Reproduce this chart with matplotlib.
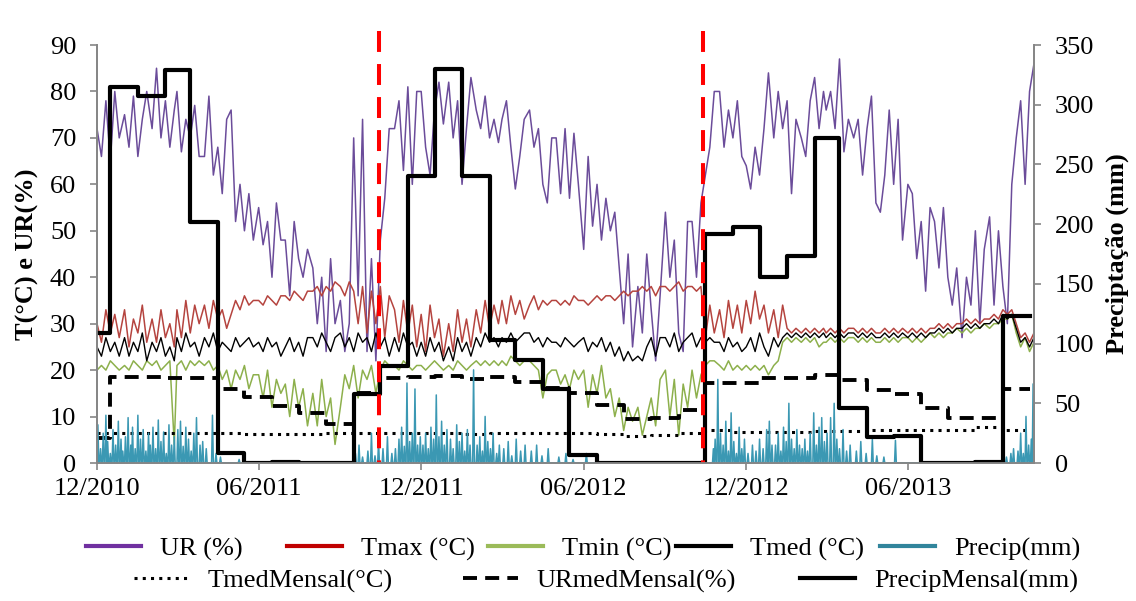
import pandas as pd
import matplotlib
matplotlib.use('Agg')
import matplotlib.pyplot as plt
import matplotlib.dates as mdates
from matplotlib.lines import Line2D

plt.rcParams['font.family'] = ['Liberation Serif', 'DejaVu Serif']

# daily series read every 5 days (days 1, 6, 11, 16, 21, 26 of each month), Dec/2010 .. Oct/2013
ur = [
    72, 66, 78, 65, 80, 70,  75, 68, 79, 66, 74, 80,  72, 85, 70, 78, 68, 76,
    80, 67, 74, 70, 77, 66,  66, 79, 62, 68, 58, 74,  76, 52, 60, 50, 58, 48,
    55, 47, 52, 40, 56, 48,  48, 36, 52, 44, 40, 46,  42, 30, 40, 24, 44, 30,
    35, 24, 30, 70, 36, 74,  24, 44, 22, 48, 57, 72,  72, 78, 63, 81, 60, 80,
    80, 68, 62, 76, 82, 73,  82, 70, 78, 60, 72, 83,  76, 72, 79, 70, 74, 69,
    74, 78, 68, 59, 66, 74,  76, 68, 72, 60, 56, 70,  70, 58, 72, 57, 71, 60,
    46, 66, 51, 60, 48, 57,  50, 54, 42, 30, 45, 25,  38, 28, 45, 33, 22, 36,
    54, 40, 48, 28, 24, 52,  52, 40, 56, 62, 68, 80,  80, 68, 76, 70, 78, 66,
    64, 59, 68, 62, 72, 84,  70, 80, 72, 78, 58, 74,  70, 66, 78, 83, 72, 80,
    76, 80, 72, 87, 67, 74,  70, 74, 62, 72, 79, 56,  54, 62, 76, 60, 74, 48,
    60, 58, 44, 52, 37, 55,  52, 42, 55, 40, 34, 42,  27, 40, 34, 50, 30, 46,
    53, 34, 50, 38, 30, 60,  70, 78, 60, 80, 86,
]
tmax = [
    30, 26, 33, 28, 32, 27,  33, 25, 31, 28, 34, 26,  31, 26, 33, 27, 30, 25,
    33, 27, 35, 28, 34, 30,  34, 29, 35, 31, 33, 29,  32, 35, 33, 36, 34, 35,
    35, 34, 36, 35, 34, 36,  36, 35, 37, 36, 35, 37,  37, 38, 36, 38, 37, 39,
    38, 36, 39, 37, 30, 38,  28, 37, 30, 38, 27, 36,  33, 26, 35, 28, 34, 25,
    32, 24, 34, 27, 31, 23,  30, 24, 33, 26, 31, 25,  33, 28, 35, 29, 34, 30,
    35, 30, 36, 32, 35, 31,  34, 36, 33, 35, 34, 35,  35, 34, 35, 34, 36, 35,
    35, 34, 35, 36, 35, 36,  36, 35, 36, 37, 36, 37,  37, 38, 37, 38, 36, 38,
    38, 37, 38, 39, 37, 38,  38, 37, 38, 27, 34, 28,  33, 27, 35, 29, 34, 28,
    35, 30, 37, 31, 34, 28,  33, 27, 34, 29, 28, 29,  28, 29, 28, 29, 28, 29,
    28, 29, 28, 29, 28, 29,  29, 28, 29, 28, 29, 28,  28, 29, 28, 29, 28, 29,
    28, 29, 28, 29, 28, 29,  29, 30, 29, 30, 29, 30,  30, 31, 30, 31, 30, 31,
    31, 32, 31, 33, 32, 33,  30, 27, 28, 26, 28,
]
tmin = [
    20, 21, 20, 22, 21, 20,  21, 20, 22, 21, 20, 22,  21, 22, 20, 21, 22, 4,
    21, 22, 20, 22, 21, 22,  21, 22, 20, 21, 18, 20,  16, 20, 18, 21, 16, 19,
    19, 14, 20, 12, 18, 15,  17, 10, 18, 12, 16, 8,   15, 8, 18, 10, 14, 4,
    12, 19, 16, 21, 14, 20,  18, 21, 15, 20, 22, 21,  21, 20, 22, 21, 20, 21,
    21, 20, 21, 22, 21, 20,  21, 20, 22, 21, 20, 21,  22, 21, 22, 21, 22, 21,
    22, 21, 23, 22, 21, 22,  22, 21, 20, 14, 19, 20,  20, 17, 19, 16, 20, 18,
    20, 12, 19, 15, 21, 14,  16, 10, 14, 7, 12, 9,    12, 6, 10, 14, 8, 18,
    20, 10, 18, 6, 17, 12,   20, 14, 19, 21, 22, 22,  21, 20, 22, 20, 21, 20,
    21, 20, 21, 20, 21, 19,  21, 22, 26, 27, 26, 27,  26, 27, 26, 27, 25, 26,
    26, 27, 26, 27, 26, 27,  27, 26, 27, 26, 27, 26,  26, 27, 26, 27, 26, 27,
    27, 26, 27, 26, 27, 28,  27, 28, 27, 28, 28, 29,  28, 29, 28, 29, 29, 30,
    29, 30, 30, 31, 31, 32,  28, 25, 27, 24, 26,
]
tmed = [
    25, 23, 27, 24, 26, 23,  27, 23, 26, 24, 28, 22,  26, 24, 27, 23, 25, 22,
    27, 24, 28, 25, 26, 23,  27, 25, 28, 24, 26, 25,  24, 27, 25, 26, 27, 25,
    26, 24, 27, 25, 26, 23,  25, 27, 24, 26, 23, 27,  27, 25, 28, 26, 24, 27,
    28, 25, 27, 24, 28, 26,  27, 24, 28, 25, 27, 23,  27, 24, 28, 25, 26, 23,
    26, 23, 27, 24, 26, 22,  25, 22, 27, 24, 26, 23,  27, 25, 28, 26, 27, 25,
    27, 26, 28, 26, 27, 28,  28, 26, 27, 25, 27, 26,  26, 25, 27, 26, 25, 26,
    27, 24, 26, 25, 27, 24,  26, 23, 25, 22, 24, 22,  23, 22, 25, 27, 23, 27,
    27, 25, 28, 24, 26, 27,  28, 25, 27, 26, 27, 26,  26, 24, 27, 25, 26, 24,
    25, 27, 24, 28, 25, 23,  27, 25, 27, 28, 27, 28,  27, 28, 27, 28, 27, 28,
    27, 28, 27, 28, 27, 28,  28, 27, 28, 27, 28, 27,  27, 28, 27, 28, 27, 28,
    27, 28, 27, 28, 27, 28,  28, 29, 28, 29, 28, 29,  29, 30, 29, 30, 29, 30,
    30, 31, 30, 32, 31, 32,  29, 26, 27, 25, 27,
]

# daily rain events (mm), all other days 0
rain_dates = [
    '2010-12-02', '2010-12-05', '2010-12-08', '2010-12-11', '2010-12-13', '2010-12-16', '2010-12-19', '2010-12-22', '2010-12-25', '2010-12-28', '2010-12-30',
    '2011-01-02', '2011-01-05', '2011-01-08', '2011-01-10', '2011-01-13', '2011-01-16', '2011-01-19', '2011-01-22', '2011-01-25', '2011-01-28', '2011-01-30',
    '2011-02-02', '2011-02-05', '2011-02-08', '2011-02-11', '2011-02-14', '2011-02-17', '2011-02-20', '2011-02-23', '2011-02-26',
    '2011-03-02', '2011-03-05', '2011-03-08', '2011-03-11', '2011-03-14', '2011-03-17', '2011-03-20', '2011-03-23', '2011-03-27', '2011-03-30',
    '2011-04-03', '2011-04-10', '2011-04-14', '2011-04-19', '2011-05-10',
    '2011-09-18', '2011-09-22', '2011-09-26',
    '2011-10-02', '2011-10-06', '2011-10-10', '2011-10-14', '2011-10-19', '2011-10-24', '2011-10-29',
    '2011-11-02', '2011-11-06', '2011-11-09', '2011-11-12', '2011-11-15', '2011-11-18', '2011-11-21', '2011-11-24', '2011-11-27', '2011-11-30',
    '2011-12-03', '2011-12-06', '2011-12-09', '2011-12-12', '2011-12-15', '2011-12-18', '2011-12-21', '2011-12-24', '2011-12-27', '2011-12-30',
    '2012-01-03', '2012-01-06', '2012-01-10', '2012-01-13', '2012-01-16', '2012-01-19', '2012-01-22', '2012-01-25', '2012-01-29',
    '2012-02-02', '2012-02-05', '2012-02-08', '2012-02-11', '2012-02-14', '2012-02-17', '2012-02-20', '2012-02-24', '2012-02-27',
    '2012-03-03', '2012-03-08', '2012-03-12', '2012-03-17', '2012-03-22', '2012-03-27',
    '2012-04-03', '2012-04-09', '2012-04-15', '2012-04-22', '2012-05-04', '2012-05-12', '2012-05-20', '2012-06-04',
    '2012-10-25', '2012-10-27', '2012-10-30',
    '2012-11-02', '2012-11-05', '2012-11-08', '2012-11-11', '2012-11-14', '2012-11-17', '2012-11-20', '2012-11-23', '2012-11-26', '2012-11-29',
    '2012-12-03', '2012-12-08', '2012-12-12', '2012-12-16', '2012-12-20', '2012-12-24', '2012-12-27', '2012-12-30',
    '2013-01-03', '2013-01-06', '2013-01-09', '2013-01-12', '2013-01-15', '2013-01-18', '2013-01-21', '2013-01-24', '2013-01-27', '2013-01-30',
    '2013-02-02', '2013-02-05', '2013-02-08', '2013-02-11', '2013-02-15', '2013-02-18', '2013-02-21', '2013-02-24', '2013-02-27',
    '2013-03-02', '2013-03-06', '2013-03-10', '2013-03-13', '2013-03-16', '2013-03-20', '2013-03-24', '2013-03-28',
    '2013-04-04', '2013-04-09', '2013-04-15', '2013-04-22', '2013-04-27', '2013-05-05', '2013-05-18',
    '2013-09-20', '2013-09-25', '2013-09-28',
    '2013-10-03', '2013-10-06', '2013-10-09', '2013-10-12', '2013-10-15', '2013-10-18', '2013-10-20',
]
rain_mm = [
    32, 12, 25, 40, 18, 8, 28, 15, 35, 20, 10,
    22, 38, 15, 30, 12, 40, 20, 28, 10, 25, 15,
    30, 12, 36, 18, 26, 8, 32, 15, 22,
    28, 35, 14, 30, 20, 10, 25, 38, 15, 18,
    12, 40, 8, 5, 3,
    8, 15, 5,
    10, 25, 6, 18, 12, 22, 8,
    12, 20, 30, 14, 67, 18, 25, 62, 15, 22,
    15, 25, 12, 30, 20, 57, 22, 35, 15, 28,
    20, 12, 32, 18, 25, 10, 28, 15, 78,
    15, 22, 10, 39, 18, 12, 25, 8, 15,
    12, 18, 6, 20, 10, 15,
    10, 15, 6, 12, 5, 8, 3, 8,
    12, 20, 70,
    25, 15, 35, 10, 42, 18, 8, 30, 12, 20,
    8, 15, 10, 20, 12, 28, 35, 15,
    15, 25, 10, 30, 18, 50, 20, 12, 28, 15,
    12, 20, 10, 25, 42, 15, 30, 38, 18,
    25, 38, 50, 20, 12, 28, 10, 15,
    10, 18, 8, 20, 6, 5, 19,
    5, 8, 12,
    10, 25, 8, 39, 15, 20, 66,
]

# monthly series: each value holds from its start date to the next one
# (first value from 01/12/2010, then from day 16 of each month, Dec/2010 .. Sep/2013)
precip_mensal = [109, 315, 307, 329, 202, 8, 0, 1.2, 0, 0, 58, 81, 240, 330, 240, 103, 86, 62,
                 6.7, 0, 0, 0, 0, 192, 198, 156, 173, 272, 46, 21.5, 22.5, 0, 0, 1.2, 123]
ur_mensal = [5.4, 18.6, 18.6, 18.4, 18.2, 16.0, 14.2, 12.3, 10.7, 8.5, 15.0, 18.4, 18.5, 18.8,
             18.1, 18.5, 17.4, 16.1, 15.0, 12.5, 9.4, 9.6, 11.4, 17.3, 17.3, 18.2, 18.3, 19.0,
             17.9, 15.8, 14.8, 11.9, 9.6, 9.7, 15.9]
tmed_mensal = [6.4, 6.5, 6.5, 6.4, 6.5, 6.4, 6.3, 6.2, 6.3, 6.4, 6.5, 6.4, 6.5, 6.4, 6.3, 6.5,
               6.5, 6.5, 6.5, 6.3, 5.9, 6.1, 6.5, 7.0, 6.6, 6.7, 6.7, 6.8, 6.9, 7.1, 7.0, 7.1,
               7.2, 7.8, 7.1]

marcos = ['2011-10-15', '2012-10-13']

# dates
months = pd.date_range('2010-12-01', '2013-10-01', freq='MS')
sample_dates = [m + pd.Timedelta(days=d - 1) for m in months for d in (1, 6, 11, 16, 21, 26)][:len(ur)]
days = pd.date_range('2010-12-01', '2013-10-20', freq='D')
precip = pd.Series(0.0, index=days)
precip[pd.to_datetime(rain_dates)] = rain_mm
step_dates = ([pd.Timestamp('2010-12-01')]
              + list(pd.date_range('2010-12-01', '2013-09-01', freq='MS') + pd.Timedelta(days=15))
              + [pd.Timestamp('2013-10-16')])

fig = plt.figure(figsize=(11.36, 6.01), dpi=100)
ax = fig.add_axes([0.0854, 0.2296, 0.8248, 0.6955])
ax2 = ax.twinx()

ax.plot(sample_dates, ur, color='#6B4C9A', lw=1.1)
ax.plot(sample_dates, tmax, color='#B5443F', lw=1.1)
ax.plot(sample_dates, tmin, color='#8DB04C', lw=1.1)
ax.plot(sample_dates, tmed, color='black', lw=1.0)
ax2.plot(precip.index, precip.values, color='#3B98B3', lw=1.1)

ax.step(step_dates, tmed_mensal + tmed_mensal[-1:], where='post', color='black', lw=2.2,
        linestyle=(0, (1, 1.7)))
ax.step(step_dates, ur_mensal + ur_mensal[-1:], where='post', color='black', lw=2.8,
        linestyle=(0, (3.6, 2.1)))
ax2.step(step_dates, precip_mensal + precip_mensal[-1:], where='post', color='black', lw=3.0)

for m in marcos:
    d = pd.Timestamp(m)
    ax2.plot([d, d], [362, 0], color='#FF0000', lw=2.9, linestyle=(0, (5.2, 3.0)), clip_on=False)

ax.set_xlim(pd.Timestamp('2010-12-01'), pd.Timestamp('2013-10-21'))
ax.set_ylim(0, 90)
ax2.set_ylim(0, 350)
ax.set_yticks(range(0, 91, 10))
ax2.set_yticks(range(0, 351, 50))
ax.xaxis.set_major_locator(mdates.MonthLocator(bymonth=[6, 12]))
ax.xaxis.set_major_formatter(mdates.DateFormatter('%m/%Y'))

for a in (ax, ax2):
    a.spines['top'].set_visible(False)
    for s in ('left', 'right', 'bottom'):
        a.spines[s].set_color('#868686')
        a.spines[s].set_linewidth(1.3)
    a.tick_params(axis='both', colors='#868686', labelcolor='black', labelsize=19,
                  length=5, width=1.2, direction='out', pad=10)
ax.tick_params(axis='x', pad=6)

ax.set_ylabel('T(°C) e UR(%)', fontsize=19, fontweight='bold', labelpad=8)
ax2.set_ylabel('Preciptação (mm)', fontsize=19, fontweight='bold', labelpad=8)

# legend (two rows, entries placed like the original)
row1 = [('UR (%)', '#7030A0', '-', 3.0, 86),
        ('Tmax (°C)', '#C00000', '-', 3.0, 287),
        ('Tmin (°C)', '#9BBB59', '-', 3.0, 488),
        ('Tmed (°C)', 'black', '-', 3.0, 676),
        ('Precip(mm)', '#31859C', '-', 3.0, 880)]
row2 = [('TmedMensal(°C)', 'black', (0, (1, 1.7)), 2.2, 134),
        ('URmedMensal(%)', 'black', (0, (3.6, 2.1)), 2.8, 463),
        ('PrecipMensal(mm)', 'black', '-', 3.0, 800)]
for row, ypix in ((row1, 549), (row2, 581)):
    for label, color, ls, lw, xpix in row:
        h = Line2D([], [], color=color, linestyle=ls, lw=lw)
        fig.legend(handles=[h], labels=[label], loc='center left',
                   bbox_to_anchor=(xpix / 1136, 1 - ypix / 601), frameon=False,
                   borderpad=0, borderaxespad=0, handlelength=2.1, handletextpad=0.7,
                   fontsize=19)

fig.savefig('out.png', dpi=100)
